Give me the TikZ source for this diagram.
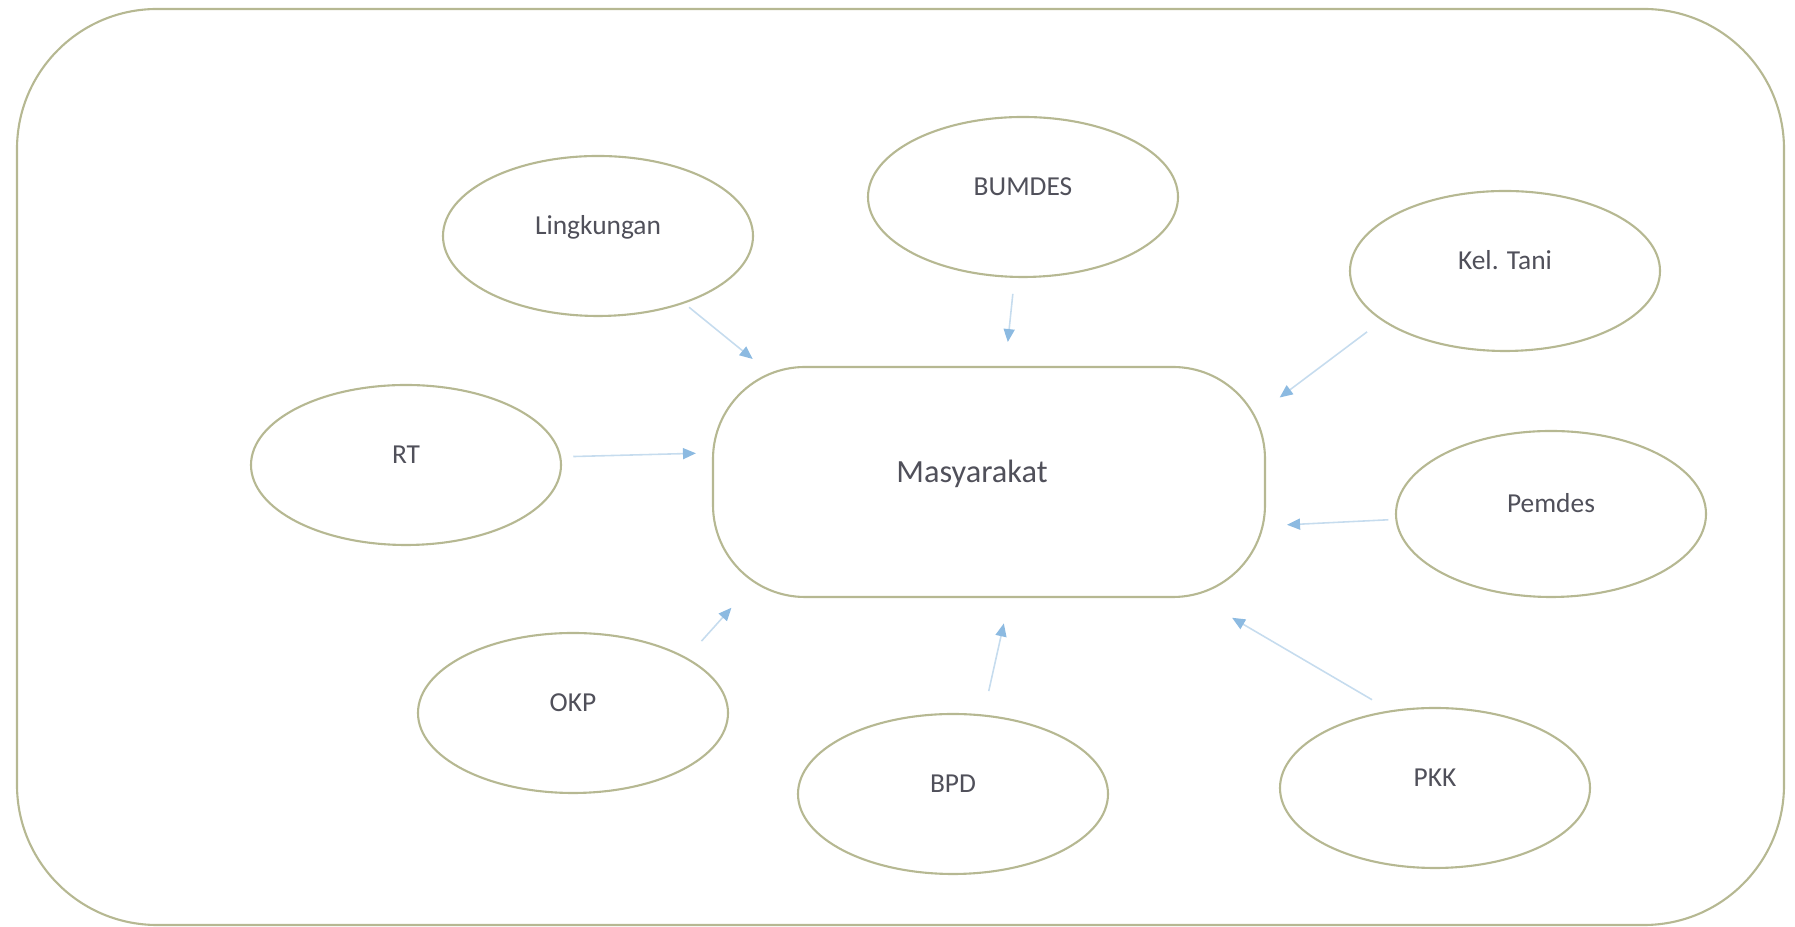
\documentclass[tikz,border=0pt]{standalone}
\usepackage{fontspec}
\setmainfont{Carlito}
\usepackage{tikz}
\usetikzlibrary{arrows.meta}
\usetikzlibrary{shapes.geometric}

\definecolor{olivegray}{RGB}{182,184,146}
\definecolor{linkblue}{RGB}{198,220,238}
\definecolor{tipblue}{RGB}{140,186,225}
\definecolor{labelgray}{RGB}{80,80,90}

\begin{document}
\begin{tikzpicture}[
		main node/.style={font=\fontsize{7.8}{9}\selectfont, text=labelgray, text height=1.8mm, text depth=2mm}
		,
		oval node/.style={
			main node,
			ellipse,
			draw=olivegray,
			line width=0.6pt,
			inner sep=0pt,
			minimum width=3.1cm,
			minimum height=1.6cm
		},
		center node/.style={
			main node,
			font=\fontsize{9.2}{11}\selectfont,
			text height=2.1mm,
			text depth=2mm,
			rectangle,
			rounded corners=0.92cm,
			draw=olivegray,
			line width=0.6pt,
			minimum width=5.52cm,
			minimum height=2.3cm
		},
		frame node/.style={
			rectangle,
			rounded corners=1.4cm,
			draw=olivegray,
			line width=0.6pt,
			minimum width=17.67cm,
			minimum height=9.16cm
		},
		link/.style={
			draw=linkblue,
			line width=0.45pt,
			-{Triangle[length=1.3mm, width=1.1mm, color=tipblue]}
		}
		]
		\useasboundingbox (0,0) rectangle (17.95,9.27);
		\node[frame node] (desa) at (9.005,4.60) {};

		\node[center node] (masy) at (9.89,4.45) {Masyarakat\hspace*{3.4mm}};
		\node[oval node] (lingk) at (5.98,6.91) {Lingkungan};
		\node[oval node] (bumdes) at (10.23,7.30) {BUMDES};
		\node[oval node] (keltani) at (15.05,6.56) {Kel. Tani};
		\node[oval node] (rt) at (4.06,4.62) {RT};
		\node[oval node, minimum height=1.66cm] (pemdes) at (15.51,4.13) {Pemdes};
		\node[oval node] (okp) at (5.73,2.14) {OKP};
		\node[oval node] (bpd) at (9.53,1.33) {BPD};
		\node[oval node] (pkk) at (14.35,1.39) {PKK};

		\path
		(lingk.-38.6) edge[link, shorten <=0.6mm, shorten >=1.1mm] (masy.153.1)
		(bumdes.264.6) edge[link, shorten <=1.6mm, shorten >=2.4mm] (masy.82.6)
		(keltani.202.9) edge[link, shorten <=1.85mm, shorten >=1.7mm] (masy.15.9)
		(rt.3.1) edge[link, shorten <=1.2mm, shorten >=1.6mm] (masy.174.9)
		(pemdes.182.8) edge[link, shorten <=0.7mm, shorten >=2.1mm] (masy.-9)
		(okp.26.9) edge[link, shorten <=2.2mm, shorten >=1.3mm] (masy.205.9)
		(bpd.69.9) edge[link, shorten <=2.4mm, shorten >=2.6mm] (masy.-80.3)
		(pkk.120.1) edge[link, shorten <=2.1mm, shorten >=3.9mm] (masy.-29.6);
	\end{tikzpicture}
\end{document}
